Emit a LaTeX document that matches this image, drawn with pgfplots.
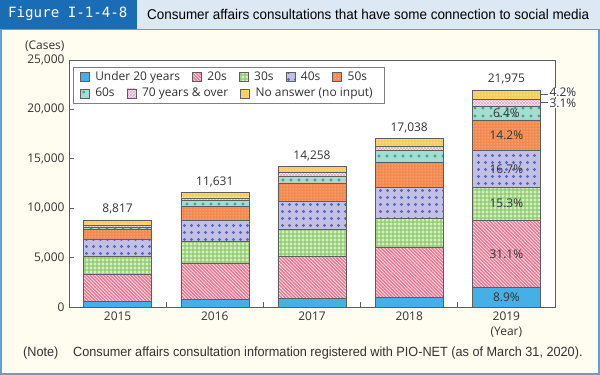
\documentclass[border=0pt]{standalone}
\usepackage{pgfplots}
\pgfplotsset{compat=1.18}
\usepackage{pgfplotstable}
\usetikzlibrary{patterns}
\usepackage{fontspec}
\setmainfont{Open Sans}
\newfontfamily\titlefont[FakeStretch=0.95]{Liberation Sans}
\newfontfamily\figmono{DejaVu Sans Mono}
\definecolor{figblue}{HTML}{1A6DB5}
\definecolor{titlebg}{HTML}{DDE8F5}
\definecolor{panelbg}{HTML}{FFFDEF}
\definecolor{panelborder}{HTML}{5AA2DC}
\definecolor{axisgray}{HTML}{5E5E5E}
\definecolor{cU}{HTML}{45B0E5}
\definecolor{c20bg}{HTML}{FDE0E6}
\definecolor{c20}{HTML}{EE7590}
\definecolor{c30bg}{HTML}{D6EEC4}
\definecolor{c30}{HTML}{8DCB6B}
\definecolor{c40bg}{HTML}{C3BFE5}
\definecolor{c40}{HTML}{5068C2}
\definecolor{c50bg}{HTML}{F2894F}
\definecolor{c50}{HTML}{FCD2B4}
\definecolor{c60bg}{HTML}{A6DDD2}
\definecolor{c60}{HTML}{34AA86}
\definecolor{c70bg}{HTML}{FCF0F6}
\definecolor{c70}{HTML}{E6A8CB}
\definecolor{cNAbg}{HTML}{F8CD5C}
\definecolor{cNA}{HTML}{FFF2C8}
\definecolor{txt}{HTML}{333333}

% custom patterns
\pgfdeclarepatternformonly{pstripes}{\pgfqpoint{-1pt}{-1pt}}{\pgfqpoint{4.5pt}{4.5pt}}{\pgfqpoint{3.4pt}{3.4pt}}{%
  \pgfsetlinewidth{1.3pt}%
  \pgfpathmoveto{\pgfqpoint{-0.1pt}{3.5pt}}\pgfpathlineto{\pgfqpoint{3.5pt}{-0.1pt}}%
  \pgfusepath{stroke}}
\pgfdeclarepatternformonly{pgingham}{\pgfqpoint{0pt}{0pt}}{\pgfqpoint{4pt}{4pt}}{\pgfqpoint{4pt}{4pt}}{%
  \pgfsetlinewidth{1.3pt}%
  \pgfpathmoveto{\pgfqpoint{0pt}{2pt}}\pgfpathlineto{\pgfqpoint{4pt}{2pt}}%
  \pgfpathmoveto{\pgfqpoint{2pt}{0pt}}\pgfpathlineto{\pgfqpoint{2pt}{4pt}}%
  \pgfusepath{stroke}}
\pgfdeclarepatternformonly{pbigdots}{\pgfqpoint{0pt}{0pt}}{\pgfqpoint{7pt}{7pt}}{\pgfqpoint{7pt}{7pt}}{%
  \pgfpathcircle{\pgfqpoint{3.5pt}{3.5pt}}{1.6pt}\pgfusepath{fill}}
\pgfdeclarepatternformonly{pbigdotsb}{\pgfqpoint{0pt}{0pt}}{\pgfqpoint{8pt}{8pt}}{\pgfqpoint{8pt}{8pt}}{%
  \pgfpathcircle{\pgfqpoint{4pt}{4pt}}{1.6pt}\pgfusepath{fill}}
\pgfdeclarepatternformonly{psmalldots}{\pgfqpoint{0pt}{0pt}}{\pgfqpoint{2.6pt}{2.6pt}}{\pgfqpoint{2.6pt}{2.6pt}}{%
  \pgfpathcircle{\pgfqpoint{1.3pt}{1.3pt}}{0.7pt}\pgfusepath{fill}}
\pgfdeclarepatternformonly{pcross}{\pgfqpoint{0pt}{0pt}}{\pgfqpoint{3pt}{3pt}}{\pgfqpoint{3pt}{3pt}}{%
  \pgfsetlinewidth{0.5pt}%
  \pgfpathmoveto{\pgfqpoint{0pt}{0pt}}\pgfpathlineto{\pgfqpoint{3pt}{3pt}}%
  \pgfpathmoveto{\pgfqpoint{0pt}{3pt}}\pgfpathlineto{\pgfqpoint{3pt}{0pt}}%
  \pgfusepath{stroke}}

\pgfplotstableread{
x u20 s20 s30 s40 s50 s60 s70 na total
0 600 2700 1800 1800 980 200 230 507 8817
1 780 3640 2190 2160 1480 550 260 571 11631
2 850 4310 2700 2800 1920 680 340 658 14258
3 980 5060 2940 3120 2580 1140 480 738 17038
4 1956 6834 3362 3670 3120 1406 681 946 21975
}\datatable

\pgfplotsset{
  sqleg/.style={legend image code/.code={\draw[##1] (0bp,-4.5bp) rectangle (9bp,4.5bp); \path (13bp,0bp);}},
  segU/.style={draw=axisgray, fill=cU, sqleg},
  seg20/.style={draw=axisgray, preaction={fill=c20bg}, pattern=pstripes, pattern color=c20, sqleg},
  seg30/.style={draw=axisgray, preaction={fill=c30bg}, pattern=pgingham, pattern color=c30, sqleg},
  seg40/.style={draw=axisgray, preaction={fill=c40bg}, pattern=pbigdots, pattern color=c40, sqleg},
  seg50/.style={draw=axisgray, preaction={fill=c50bg}, pattern=psmalldots, pattern color=c50, sqleg},
  seg60/.style={draw=axisgray, preaction={fill=c60bg}, pattern=pbigdotsb, pattern color=c60, sqleg},
  seg70/.style={draw=axisgray, preaction={fill=c70bg}, pattern=pcross, pattern color=c70, sqleg},
  segNA/.style={draw=axisgray, preaction={fill=cNAbg}, pattern=psmalldots, pattern color=cNA, sqleg},
  commonaxis/.style={
    scale only axis, width=486bp, height=247bp,
    at={(69bp,68bp)}, anchor=south west,
    xmin=-0.5, xmax=4.5, ymin=0, ymax=25000,
  },
}
\tikzset{lbl/.style={font=\fontsize{12}{14}\selectfont, text=txt}}

\begin{document}
\begin{tikzpicture}
\path[use as bounding box] (0,0) rectangle (600bp,375bp);
\fill[panelbg] (0,0) rectangle (600bp,346bp);
\draw[panelborder, line width=2bp] (1bp,1bp) rectangle (599bp,346bp);
\fill[titlebg] (137bp,346bp) rectangle (600bp,375bp);
\fill[figblue] (0,346bp) rectangle (137bp,375bp);
\node[anchor=west, text=white, inner sep=0pt, font=\figmono\fontsize{14.2}{16}\selectfont] at (8bp,361bp) {Figure I-1-4-8};
\node[anchor=west, inner sep=0pt, font=\titlefont\fontsize{14.2}{16}\selectfont] at (147bp,361bp) {Consumer affairs consultations that have some connection to social media};
\node[anchor=west, inner sep=0pt, text=txt, font=\titlefont\fontsize{13.4}{15}\selectfont] at (23bp,22bp) {(Note)};
\node[anchor=west, inner sep=0pt, text=txt, font=\titlefont\fontsize{13.4}{15}\selectfont] at (73bp,22bp) {Consumer affairs consultation information registered with PIO-NET (as of March 31, 2020).};

\begin{axis}[
  commonaxis,
  ybar stacked, bar width=0.7,
  axis background/.style={fill=white},
  axis line style={axisgray, line width=0.8bp},
  tick style={axisgray, line width=0.8bp},
  tick align=inside, tick pos=left,
  major tick length=5bp, minor tick length=5bp,
  xtick={0,1,2,3,4},
  xticklabels={2015,2016,2017,2018,2019},
  minor xtick={0.5,1.5,2.5,3.5},
  major x tick style={draw=none},
  ytick={0,5000,10000,15000,20000,25000},
  scaled y ticks=false,
  yticklabel style={/pgf/number format/1000 sep={,}, /pgf/number format/assume math mode=true, xshift=-1bp},
  xticklabel style={yshift=-1bp},
  ticklabel style={font=\fontsize{12}{14}\selectfont, text=txt},
  legend columns=5,
  legend style={draw=none, fill=none, at={(0.022,0.9324)}, anchor=west,
    font=\fontsize{12}{14}\selectfont, text=txt, inner sep=0pt,
    /tikz/every even column/.append style={column sep=10bp}},
  clip=false,
]
\addplot[segU] table[x=x,y=u20] {\datatable};
\addplot[seg20] table[x=x,y=s20] {\datatable};
\addplot[seg30] table[x=x,y=s30] {\datatable};
\addplot[seg40] table[x=x,y=s40] {\datatable};
\addplot[seg50] table[x=x,y=s50] {\datatable};
\addplot[seg60, forget plot] table[x=x,y=s60] {\datatable};
\addplot[seg70, forget plot] table[x=x,y=s70] {\datatable};
\addplot[segNA, forget plot] table[x=x,y=na] {\datatable};
\legend{Under 20 years,20s,30s,40s,50s}
% totals
\node[lbl, anchor=south] at ([yshift=2bp]axis cs:0,8817) {8,817};
\node[lbl, anchor=south] at ([yshift=2bp]axis cs:1,11631) {11,631};
\node[lbl, anchor=south] at ([yshift=2bp]axis cs:2,14258) {14,258};
\node[lbl, anchor=south] at ([yshift=2bp]axis cs:3,17038) {17,038};
\node[lbl, anchor=south] at ([yshift=2bp]axis cs:4,21975) {21,975};
% anchors for 2019 shares
\coordinate (pU) at (axis cs:4,978);
\coordinate (p20) at (axis cs:4,5373);
\coordinate (p30) at (axis cs:4,10471);
\coordinate (p40) at (axis cs:4,13987);
\coordinate (p50) at (axis cs:4,17382);
\coordinate (p60) at (axis cs:4,19645);
\coordinate (q70a) at (axis cs:4.35,20688);
\coordinate (q70b) at (axis cs:4.43,20688);
\coordinate (qNAa) at (axis cs:4.35,21500);
\coordinate (qNAb) at (axis cs:4.43,21500);
\coordinate (t70) at (axis cs:4.44,20620);
\coordinate (tNA) at (axis cs:4.44,21720);
\node[lbl, anchor=south east] at ([xshift=-1bp,yshift=5bp]rel axis cs:0,1) {(Cases)};
\node[lbl] at ([yshift=-25bp]axis cs:4,0) {(Year)};
\end{axis}

\begin{axis}[
  commonaxis, hide axis,
  legend columns=3,
  legend style={draw=none, fill=none, at={(0.022,0.865)}, anchor=west,
    font=\fontsize{12}{14}\selectfont, text=txt, inner sep=0pt,
    /tikz/every even column/.append style={column sep=10bp}},
]
\addlegendimage{seg60}
\addlegendentry{60s}
\addlegendimage{seg70}
\addlegendentry{70 years \& over}
\addlegendimage{segNA}
\addlegendentry{No answer (no input)}
\end{axis}
\draw[gray, line width=0.8bp] (73bp,272bp) rectangle (384bp,308bp);

\node[lbl] at (pU) {8.9\%};
\node[lbl] at (p20) {31.1\%};
\node[lbl] at (p30) {15.3\%};
\node[lbl] at (p40) {16.7\%};
\node[lbl] at (p50) {14.2\%};
\node[lbl] at (p60) {6.4\%};
\draw[axisgray, line width=0.8bp] (q70a) -- (q70b);
\draw[axisgray, line width=0.8bp] (qNAa) -- (qNAb);
\node[lbl, anchor=west, fill=white, inner sep=0.2bp] at (tNA) {4.2\%};
\node[lbl, anchor=west, fill=white, inner sep=0.2bp] at (t70) {3.1\%};
\end{tikzpicture}
\end{document}
